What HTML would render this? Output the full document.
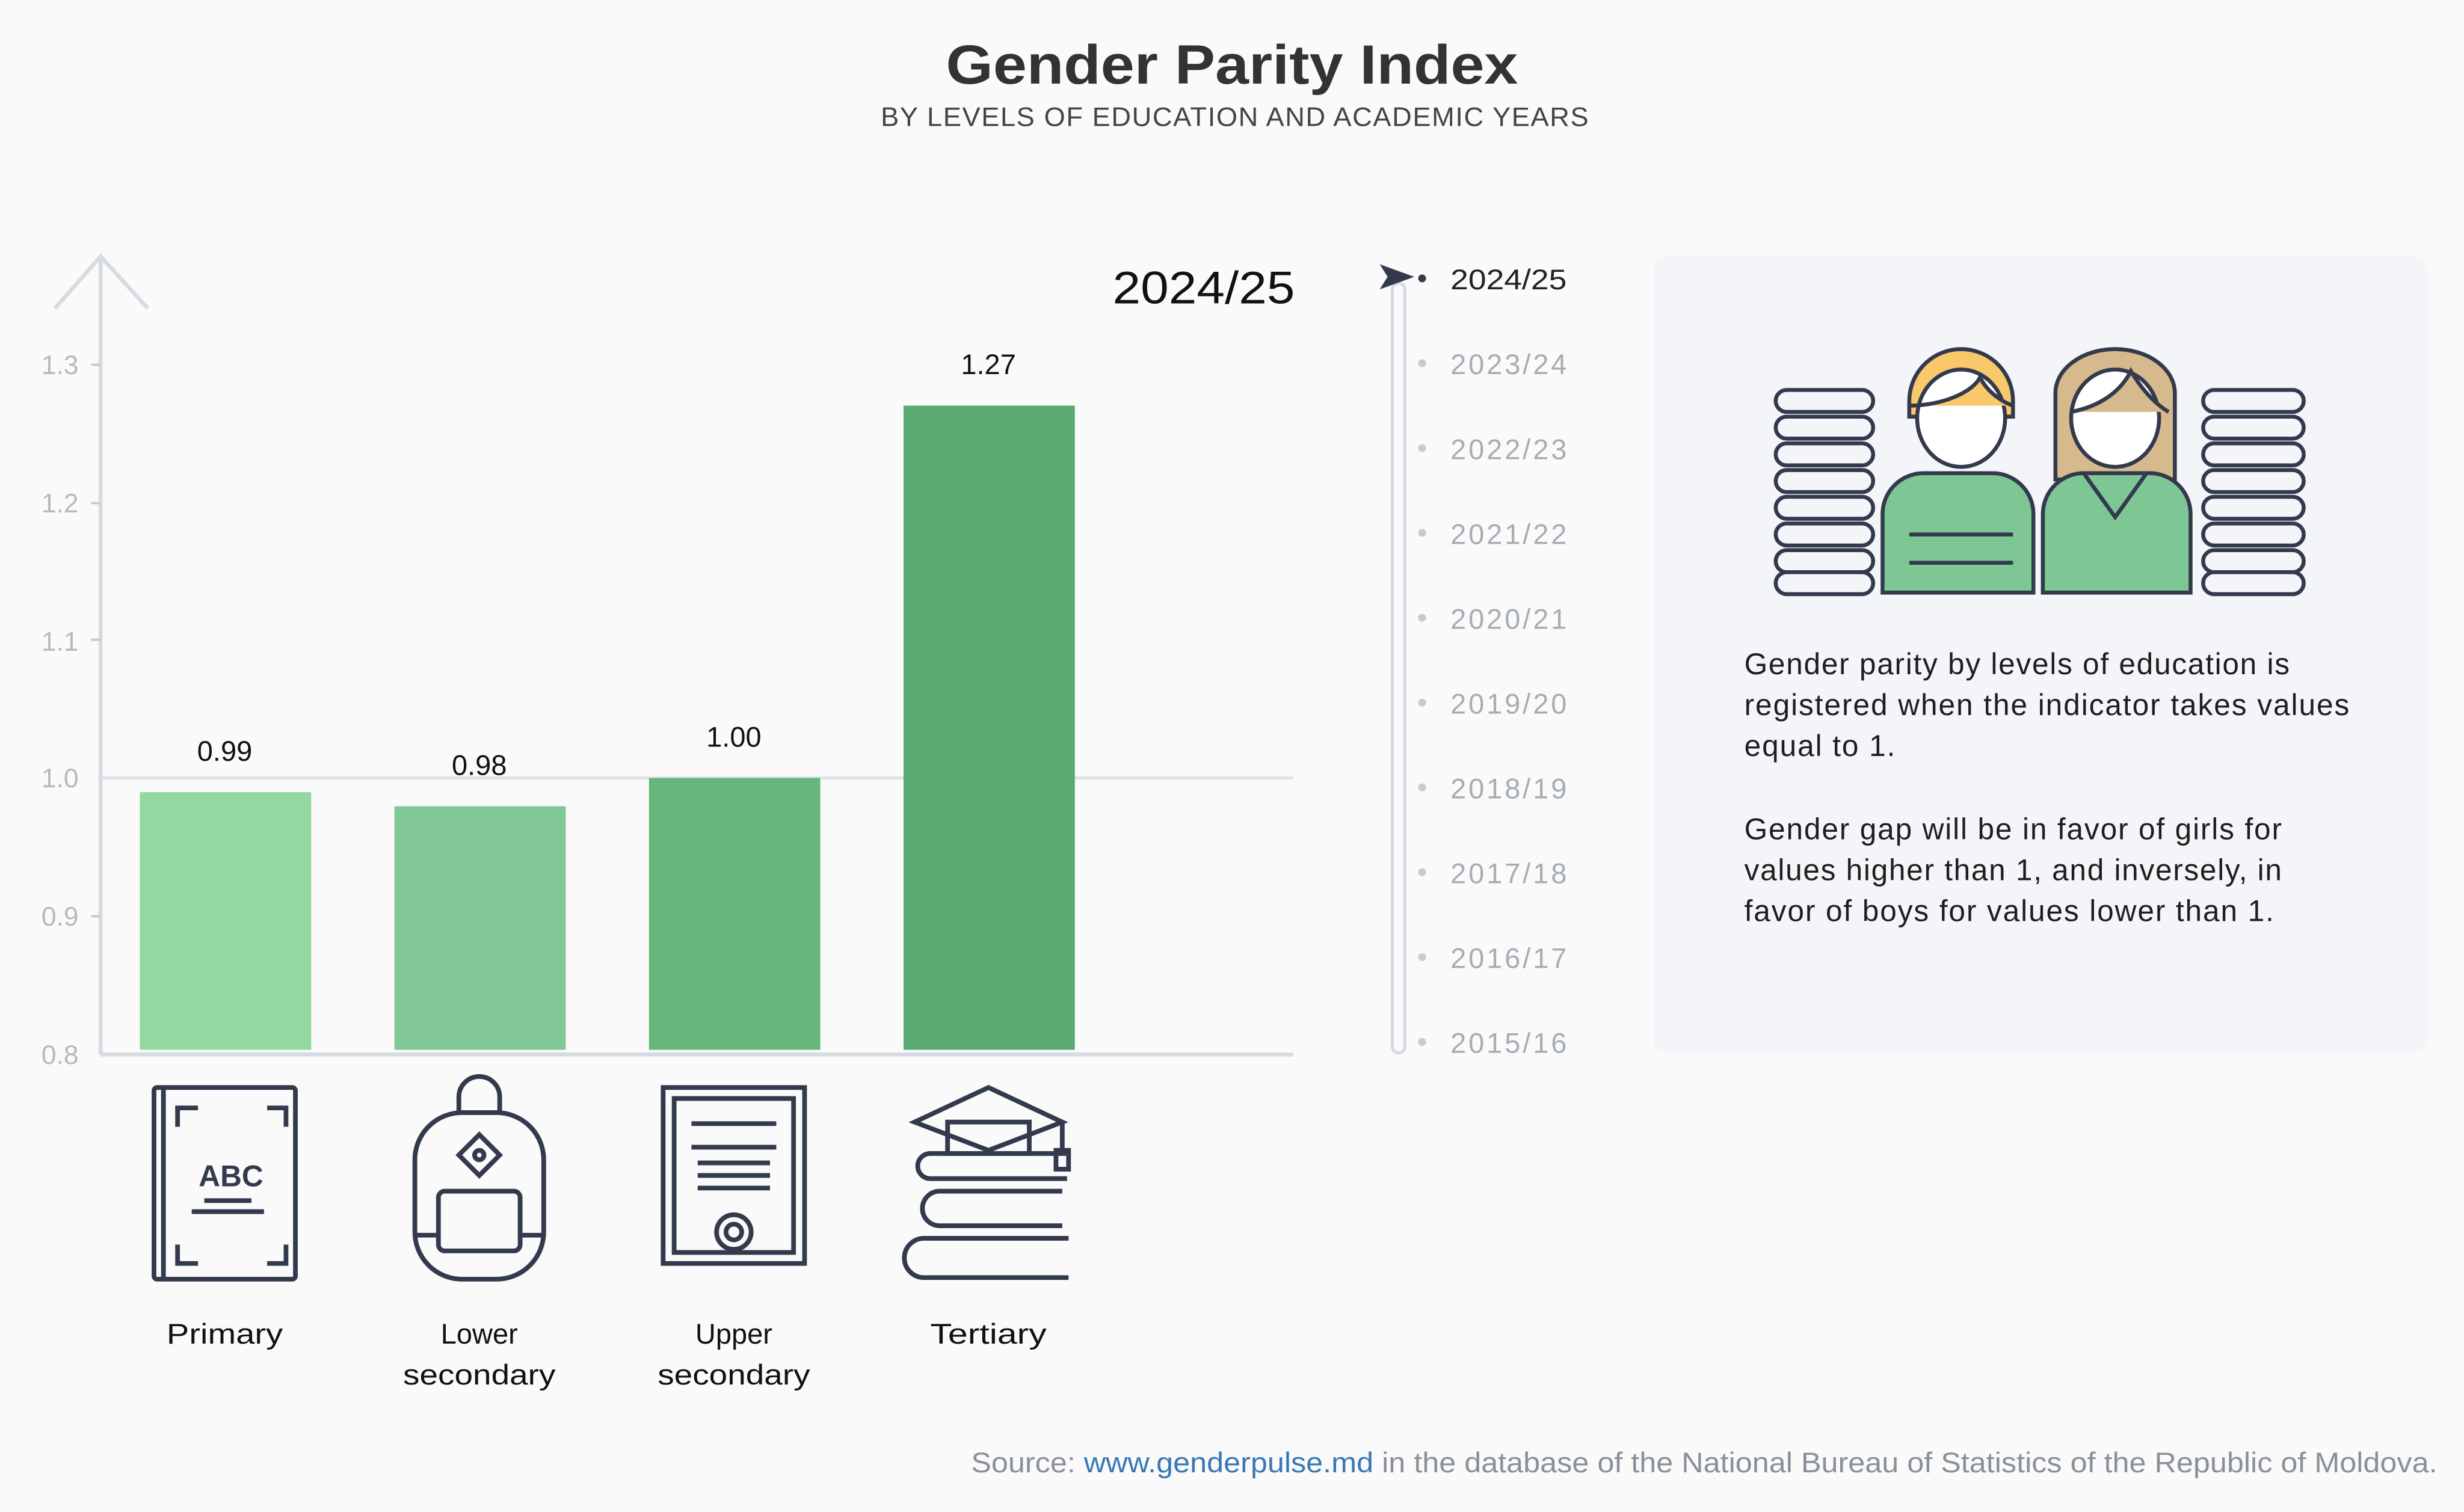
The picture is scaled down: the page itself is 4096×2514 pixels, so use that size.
<!DOCTYPE html>
<html><head><meta charset="utf-8"><style>
html,body{margin:0;padding:0;background:#fafafa;}
svg{display:block;}
text{font-family:"Liberation Sans",sans-serif;}
</style></head><body>
<svg width="4096" height="2514" viewBox="0 0 1568 962" xmlns="http://www.w3.org/2000/svg">
<rect width="1568" height="962" fill="#fafafa"/>
<text x="784" y="53" text-anchor="middle" font-size="35" font-weight="bold" fill="#333" textLength="364" lengthAdjust="spacingAndGlyphs">Gender Parity Index</text>
<text x="786" y="80" text-anchor="middle" font-size="17" fill="#444" letter-spacing="0.6" textLength="451" lengthAdjust="spacingAndGlyphs">BY LEVELS OF EDUCATION AND ACADEMIC YEARS</text>

<!-- axes -->
<g stroke="#d5dbe1" stroke-width="2.5" fill="none">
<line x1="64" y1="163" x2="64" y2="671"/>
<polyline points="35,196 64,163 94,196"/>
<line x1="64" y1="671" x2="823" y2="671"/>
</g>
<line x1="64" y1="495" x2="823" y2="495" stroke="#dde2e6" stroke-width="2"/>
<g font-size="17" fill="#b4bac0" text-anchor="end">
<text x="50" y="238">1.3</text><text x="50" y="326">1.2</text><text x="50" y="414">1.1</text>
<text x="50" y="501">1.0</text><text x="50" y="589">0.9</text><text x="50" y="677">0.8</text>
</g>
<g stroke="#c5cbd1" stroke-width="1.5"><line x1="58" y1="232" x2="64" y2="232"/><line x1="58" y1="320" x2="64" y2="320"/><line x1="58" y1="407" x2="64" y2="407"/><line x1="58" y1="583" x2="64" y2="583"/></g>
<text x="824" y="193" text-anchor="end" font-size="29" fill="#111" textLength="116" lengthAdjust="spacingAndGlyphs">2024/25</text>

<rect x="89" y="504" width="109" height="164" fill="#94d8a1"/>
<rect x="251" y="513" width="109" height="155" fill="#82c798"/>
<rect x="413" y="495" width="109" height="173" fill="#67b67c"/>
<rect x="575" y="258" width="109" height="410" fill="#58a972"/>
<g font-size="18" fill="#111" text-anchor="middle">
<text x="143" y="484">0.99</text><text x="305" y="493">0.98</text><text x="467" y="475">1.00</text><text x="629" y="238">1.27</text>
<text x="143" y="855" textLength="74" lengthAdjust="spacingAndGlyphs">Primary</text>
<text x="305" y="855">Lower</text><text x="305" y="881" textLength="97" lengthAdjust="spacingAndGlyphs">secondary</text>
<text x="467" y="855">Upper</text><text x="467" y="881" textLength="97" lengthAdjust="spacingAndGlyphs">secondary</text>
<text x="629" y="855" textLength="74" lengthAdjust="spacingAndGlyphs">Tertiary</text>
</g>

<!-- icons -->
<text x="147" y="755" text-anchor="middle" font-size="19" font-weight="bold" fill="#333a4d">ABC</text>
<g stroke="#333a4d" stroke-width="3" fill="none">
<rect x="98" y="692" width="90" height="122" rx="2"/>
<line x1="104" y1="692" x2="104" y2="814"/>
<polyline points="113,717 113,705 126,705"/><polyline points="170,705 182,705 182,717"/>
<polyline points="113,792 113,804 126,804"/><polyline points="170,804 182,804 182,792"/>
<line x1="130" y1="764" x2="160" y2="764"/><line x1="122" y1="771" x2="168" y2="771"/>
<path d="M292,708 v-10 a13,13 0 0 1 26,0 v10"/>
<rect x="264" y="708" width="82" height="106" rx="30"/>
<rect x="279" y="758" width="52" height="38" rx="4"/>
<line x1="264" y1="786" x2="279" y2="786"/><line x1="331" y1="786" x2="346" y2="786"/>
<path d="M305,722 l13,13 -13,13 -13,-13z"/><circle cx="305" cy="735" r="3"/>
<rect x="422" y="692" width="90" height="112"/><rect x="429" y="699" width="76" height="98"/>
<line x1="440" y1="715" x2="494" y2="715"/><line x1="440" y1="730" x2="494" y2="730"/>
<line x1="444" y1="740" x2="490" y2="740"/><line x1="444" y1="748" x2="490" y2="748"/><line x1="444" y1="756" x2="490" y2="756"/>
<circle cx="467" cy="784" r="11" fill="#fafafa"/><circle cx="467" cy="784" r="5"/>
<path d="M582,714 l47,-22 47,22 -47,18z"/><rect x="603" y="714" width="52" height="20"/>
<line x1="676" y1="714" x2="676" y2="732"/><rect x="672" y="732" width="8" height="12"/>
<path d="M679,734 h-87 a8,8 0 0 0 0,16 h87"/>
<path d="M676,758 h-78 a10,10 0 0 0 0,22 h78"/>
<path d="M680,788 h-92 a12,12 0 0 0 0,25 h92"/>
</g>

<!-- timeline -->
<rect x="886" y="180" width="8" height="490" rx="4" fill="none" stroke="#d5dbe1" stroke-width="2"/>
<path d="M878,168 l22,8 -22,8 5,-8z" fill="#333a4d"/>
<circle cx="905" cy="177" r="2.5" fill="#333a4d"/>
<g fill="#c5cbd1"><circle cx="905" cy="231" r="2.5"/><circle cx="905" cy="285" r="2.5"/><circle cx="905" cy="339" r="2.5"/><circle cx="905" cy="393" r="2.5"/><circle cx="905" cy="447" r="2.5"/><circle cx="905" cy="501" r="2.5"/><circle cx="905" cy="555" r="2.5"/><circle cx="905" cy="609" r="2.5"/><circle cx="905" cy="663" r="2.5"/></g>
<text x="923" y="184" font-size="18" fill="#222" textLength="74" lengthAdjust="spacingAndGlyphs">2024/25</text>
<g font-size="18" fill="#a6adb4" lengthAdjust="spacingAndGlyphs">
<text x="923" y="238" textLength="74">2023/24</text><text x="923" y="292" textLength="74">2022/23</text><text x="923" y="346" textLength="74">2021/22</text><text x="923" y="400" textLength="74">2020/21</text><text x="923" y="454" textLength="74">2019/20</text><text x="923" y="508" textLength="74">2018/19</text><text x="923" y="562" textLength="74">2017/18</text><text x="923" y="616" textLength="74">2016/17</text><text x="923" y="670" textLength="74">2015/16</text>
</g>

<!-- info panel -->
<rect x="1052" y="163" width="493" height="507" rx="8" fill="#f3f5f8"/>
<g stroke="#333a4d" stroke-width="2.5">
<g fill="#f3f5f8">
<rect x="1130" y="248" width="62" height="14" rx="7"/><rect x="1130" y="265" width="62" height="14" rx="7"/><rect x="1130" y="282" width="62" height="14" rx="7"/><rect x="1130" y="299" width="62" height="14" rx="7"/><rect x="1130" y="316" width="62" height="14" rx="7"/><rect x="1130" y="333" width="62" height="14" rx="7"/><rect x="1130" y="350" width="62" height="14" rx="7"/><rect x="1130" y="364" width="62" height="14" rx="7"/>
<rect x="1402" y="248" width="64" height="14" rx="7"/><rect x="1402" y="265" width="64" height="14" rx="7"/><rect x="1402" y="282" width="64" height="14" rx="7"/><rect x="1402" y="299" width="64" height="14" rx="7"/><rect x="1402" y="316" width="64" height="14" rx="7"/><rect x="1402" y="333" width="64" height="14" rx="7"/><rect x="1402" y="350" width="64" height="14" rx="7"/><rect x="1402" y="364" width="64" height="14" rx="7"/>
</g>
<path d="M1308,290 v-40 a38,28 0 0 1 76,0 v55 h-76z" fill="#d6b98c"/>
<path d="M1198,377 v-50 a26,26 0 0 1 26,-26 h44 a26,26 0 0 1 26,26 v50z" fill="#7ec795"/>
<path d="M1300,377 v-50 a26,26 0 0 1 26,-26 h42 a26,26 0 0 1 26,26 v50z" fill="#7ec795"/>
<path d="M1215,255 a33,33 0 0 1 66,0 v10 h-66z" fill="#f9c86a"/>
<ellipse cx="1248" cy="266" rx="28" ry="31" fill="#fff"/>
<ellipse cx="1346" cy="266" rx="28" ry="31" fill="#fff"/>
<path d="M1215,258 c20,0 40,-8 45,-18 c5,10 15,16 21,18" fill="#f9c86a"/>
<path d="M1318,262 c20,-4 32,-14 38,-26 c6,10 14,20 24,26" fill="#d6b98c"/>
<line x1="1215" y1="340" x2="1281" y2="340"/><line x1="1215" y1="358" x2="1281" y2="358"/>
<path d="M1326,301 l20,28 20,-28" fill="none"/>
</g>
<g font-size="19" fill="#1e1e1e" lengthAdjust="spacingAndGlyphs">
<text x="1110" y="429" textLength="347">Gender parity by levels of education is</text>
<text x="1110" y="455" textLength="385">registered when the indicator takes values</text>
<text x="1110" y="481" textLength="96">equal to 1.</text>
<text x="1110" y="534" textLength="342">Gender gap will be in favor of girls for</text>
<text x="1110" y="560" textLength="342">values higher than 1, and inversely, in</text>
<text x="1110" y="586" textLength="337">favor of boys for values lower than 1.</text>
</g>

<text x="618" y="937" font-size="18" fill="#8a9099" textLength="933" lengthAdjust="spacingAndGlyphs">Source: <tspan fill="#3a78b5">www.genderpulse.md</tspan> in the database of the National Bureau of Statistics of the Republic of Moldova.</text>
</svg>
</body></html>
